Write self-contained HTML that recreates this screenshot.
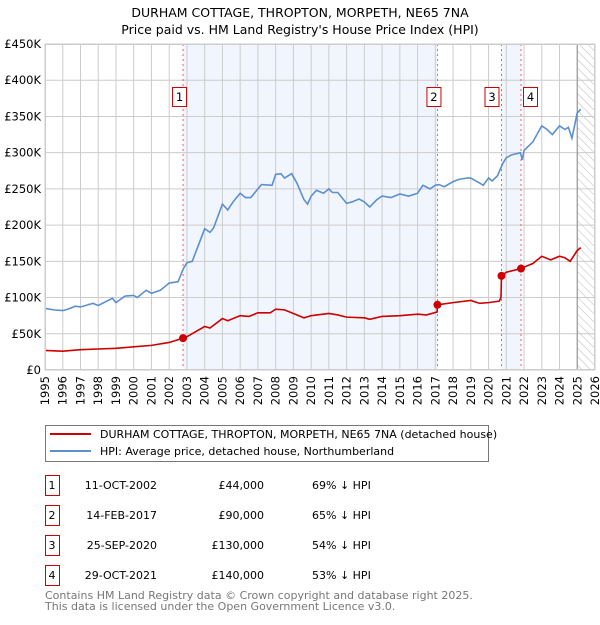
<!DOCTYPE html>
<html><head><meta charset="utf-8"><style>
body{margin:0;background:#fff;font-family:"Liberation Sans","DejaVu Sans",sans-serif;}
svg text{font-family:"DejaVu Sans","Liberation Sans",sans-serif;}
</style></head><body>
<svg id="c" width="600" height="620" xmlns="http://www.w3.org/2000/svg">
<defs><pattern id="hatch" width="6" height="6" patternUnits="userSpaceOnUse" patternTransform="rotate(-45)"><line x1="0" y1="0" x2="0" y2="6" stroke="#bbb" stroke-width="1"/></pattern></defs>
<text x="300" y="17" text-anchor="middle" font-size="12.5" fill="#000">DURHAM COTTAGE, THROPTON, MORPETH, NE65 7NA</text>
<text x="300" y="34" text-anchor="middle" font-size="12.5" fill="#000">Price paid vs. HM Land Registry's House Price Index (HPI)</text>
<g id="plot"></g>
<g>
<rect x="45.5" y="425.5" width="443" height="36" fill="#fff" stroke="#777"/>
<line x1="50" y1="434" x2="91" y2="434" stroke="#cc0000" stroke-width="2"/>
<text x="100" y="438" font-size="11">DURHAM COTTAGE, THROPTON, MORPETH, NE65 7NA (detached house)</text>
<line x1="50" y1="451" x2="91" y2="451" stroke="#5b8fd0" stroke-width="2"/>
<text x="100" y="455" font-size="11">HPI: Average price, detached house, Northumberland</text>
</g>
<g id="table"></g>
<text x="45" y="599" font-size="11" fill="#777">Contains HM Land Registry data © Crown copyright and database right 2025.</text>
<text x="45" y="610" font-size="11" fill="#777">This data is licensed under the Open Government Licence v3.0.</text>
</svg>
<script>
const hpiYears=[1995,1995.5,1996,1996.3,1996.7,1997,1997.7,1998,1998.8,1999,1999.5,2000,2000.2,2000.7,2001,2001.5,2002,2002.5,2002.8,2003,2003.3,2004,2004.3,2004.5,2005,2005.3,2005.6,2006,2006.3,2006.6,2007,2007.2,2007.8,2008,2008.3,2008.5,2008.9,2009.2,2009.6,2009.8,2010,2010.3,2010.7,2011,2011.2,2011.5,2012,2012.3,2012.7,2013,2013.3,2013.7,2014,2014.5,2015,2015.5,2016,2016.3,2016.7,2017,2017.2,2017.5,2018,2018.3,2018.8,2019,2019.5,2019.7,2020,2020.2,2020.5,2020.8,2021,2021.3,2021.8,2021.9,2022,2022.5,2023,2023.3,2023.6,2024,2024.3,2024.5,2024.7,2025,2025.2];
const hpiValues=[85,83,82,84,88,87,92,89,99,93,102,103,100,110,106,110,120,122,140,148,150,195,190,196,229,221,232,244,238,238,250,256,255,270,271,265,271,258,235,229,240,248,244,250,245,245,230,232,236,232,225,235,240,238,243,240,244,255,250,255,256,253,260,263,265,265,258,255,265,261,268,285,293,297,300,290,303,315,337,332,325,337,332,335,320,355,360];
const ppYears=[1995,1996,1997,1998,1999,2000,2001,2002,2002.78,2003,2004,2004.3,2005,2005.3,2006,2006.5,2007,2007.7,2008,2008.5,2009,2009.6,2010,2011,2011.5,2012,2013,2013.3,2014,2015,2016,2016.5,2017.1,2017.12,2018,2019,2019.5,2020,2020.6,2020.7,2020.73,2021,2021.83,2022,2022.5,2023,2023.5,2024,2024.3,2024.6,2025,2025.2];
const ppValues=[27,26,28,29,30,32,34,38,44,46,60,58,71,68,75,74,79,79,84,83,78,72,75,78,76,73,72,70,74,75,77,76,80,90,93,96,92,93,95,100,130,135,140,142,147,157,152,157,155,150,165,169];
const saleYears=[2002.78,2017.12,2020.73,2021.83];
const salePrices=[44,90,130,140];
const saleLabels=["1","2","3","4"];
const saleDates=["11-OCT-2002","14-FEB-2017","25-SEP-2020","29-OCT-2021"];
const salePriceText=["£44,000","£90,000","£130,000","£140,000"];
const saleDiffs=["69% ↓ HPI","65% ↓ HPI","54% ↓ HPI","53% ↓ HPI"];
const yTicks=[0,50,100,150,200,250,300,350,400,450];
const yTickLabels=["£0","£50K","£100K","£150K","£200K","£250K","£300K","£350K","£400K","£450K"];
const xTicks=[1995,1996,1997,1998,1999,2000,2001,2002,2003,2004,2005,2006,2007,2008,2009,2010,2011,2012,2013,2014,2015,2016,2017,2018,2019,2020,2021,2022,2023,2024,2025,2026];

const L=45,R=595,T=44,B=370,X0=1995,X1=2026,YMAX=450;
const xs=v=>L+(v-X0)/(X1-X0)*(R-L);
const ys=v=>B-v/YMAX*(B-T);
const NS="http://www.w3.org/2000/svg";
const plot=document.getElementById('plot');
function mk(tag,attrs,parent){const e=document.createElementNS(NS,tag);for(const k in attrs)e.setAttribute(k,attrs[k]);(parent||plot).appendChild(e);return e;}

const bg=mk('rect',{x:L,y:T,width:R-L,height:B-T,fill:'#fff'});


// shaded spans
for(const [a,b] of [[0,1],[2,3]]){
  const s=mk('rect',{x:xs(saleYears[a]),y:T,width:xs(saleYears[b])-xs(saleYears[a]),height:B-T,fill:'#eef3fc',opacity:0.8});
  
  
}
const h=mk('rect',{x:xs(2025),y:T,width:R-xs(2025),height:B-T,fill:'url(#hatch)'});


// grid
yTicks.forEach((v,i)=>{
  const g=mk('line',{x1:L,x2:R,y1:ys(v),y2:ys(v),stroke:'#ccc','stroke-width':1});
  
  
  const t=mk('text',{x:L-4,y:ys(v)+4,'text-anchor':'end','font-size':11.5});
  t.textContent=yTickLabels[i];
  
  
});
xTicks.forEach(v=>{
  const g=mk('line',{x1:xs(v),x2:xs(v),y1:T,y2:B,stroke:'#ccc','stroke-width':1});
  
  
  const t=mk('text',{x:0,y:0,'text-anchor':'end','font-size':11.5,transform:`translate(${xs(v)+4},${B+6}) rotate(-90)`});
  t.textContent=v;
  
  
});
const edge=mk('line',{x1:xs(2025),x2:xs(2025),y1:T,y2:B,stroke:'#999','stroke-width':1.2});


// sale vlines
saleYears.forEach((v,i)=>{
  const l=mk('line',{x1:xs(v),x2:xs(v),y1:T,y2:B,stroke:'#f06060','stroke-width':1,'stroke-dasharray':'2,3'});
  
  
});
// series
const hp=mk('polyline',{points:hpiYears.map((y,i)=>xs(y)+','+ys(hpiValues[i])).join(' '),fill:'none',stroke:'#5b8fd0','stroke-width':1.6});


const pp=mk('polyline',{points:ppYears.map((y,i)=>xs(y)+','+ys(ppValues[i])).join(' '),fill:'none',stroke:'#cc0000','stroke-width':1.6});


saleYears.forEach((v,i)=>{
  const c=mk('circle',{cx:xs(v),cy:ys(salePrices[i]),r:4,fill:'#cc0000'});
  
  
  const bx=(i===2)?xs(v)-17:(i===3)?xs(v)+2:xs(v)-11;
  const r=mk('rect',{x:bx+0.5,y:87.5,width:14,height:19,fill:'#fff',stroke:'#cc0000'});
  
  
  const t=mk('text',{x:bx+7.5,y:101,'text-anchor':'middle','font-size':11.5});
  t.textContent=saleLabels[i];
  
  
});
const fr=mk('rect',{x:L+0.5,y:T+0.5,width:R-L-1,height:B-T-1,fill:'none',stroke:'#ccc'});


// table
const tb=document.getElementById('table');
saleLabels.forEach((lab,i)=>{
  const y=475+i*30;
  const r=mk('rect',{x:45.5,y:y+0.5,width:14,height:20,fill:'#fff',stroke:'#cc0000'},tb);
  
  
  const cells=[[52,'middle',lab],[157,'end',saleDates[i]],[264,'end',salePriceText[i]],[312,'start',saleDiffs[i]]];
  cells.forEach(([x,a,s],j)=>{
    const t=mk('text',{x:x,y:y+14,'text-anchor':a,'font-size':11},tb);
    t.textContent=s;
    
    
  });
});
</script>
</body></html>
